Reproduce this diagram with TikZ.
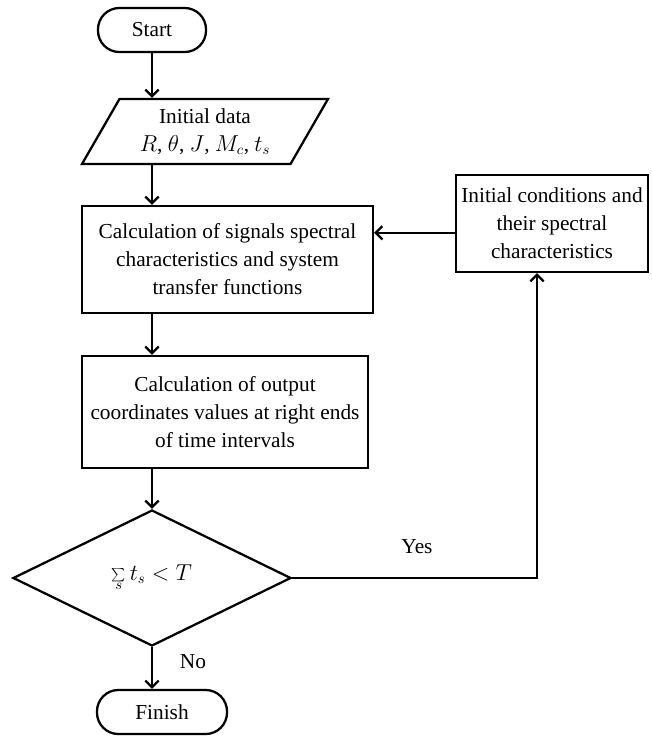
\documentclass[tikz,border=0pt]{standalone}
\usepackage{fontspec}
\setmainfont{Liberation Serif}
\usetikzlibrary{arrows.meta,shapes.geometric}

\begin{document}
\begin{tikzpicture}[x=0.75pt,y=-0.75pt,>={Straight Barb[length=5pt,width=10pt]},line width=1.7pt,font=\fontsize{16}{21}\selectfont]
  \tikzstyle{box}=[draw,align=center,inner sep=2pt]
  \tikzstyle{term}=[box,rounded corners=16pt,minimum height=33pt]
  \useasboundingbox (0,0) rectangle (651,736);
  % main column
  \node[term,minimum width=81pt] (start) at (152,30) {Start};
  \node[box,trapezium,trapezium left angle=54,trapezium right angle=126,trapezium stretches body=true,minimum width=184.5pt,minimum height=48.75pt] (data) at (205,131.5) {Initial data\\$R$, $\theta$, $J$, $M_c$, $t_s$};
  \node[box,minimum width=218.25pt,minimum height=80.25pt] (calc) at (227.5,259.5) {Calculation of signals spectral\\characteristics and system\\transfer functions};
  \node[box,minimum width=214.5pt,minimum height=84pt] (out) at (225,412) {Calculation of output\\coordinates values at right ends\\of time intervals};
  \node[box,diamond,minimum width=208.5pt,minimum height=102pt,inner sep=0pt] (cond) at (152,578) {$\sum\limits_{s} t_s<T$};
  \node[term,minimum width=97.5pt] (finish) at (162,712) {Finish};
  % feedback branch
  \node[box,minimum width=144pt,minimum height=72.75pt] (init) at (552,223.5) {Initial conditions and\\their spectral\\characteristics};
  \node (yes) at (417,547) {Yes};
  \node (no) at (193,662) {No};
  \coordinate (turn) at (537,578);

  \draw[->] (start.south) -- (start.south |- data.top side);
  \draw[->] (data.bottom side -| start.south) -- (start.south |- calc.north);
  \draw[->] (calc.south -| start.south) -- (start.south |- out.north);
  \draw[->] (out.south -| start.south) -- (cond.north);
  \draw[->] (cond.south) -- (cond.south |- finish.north);
  \draw[->] (cond.east) -- (turn) -- (turn |- init.south);
  \draw[->] ([yshift=-7pt]init.west) -- ([yshift=-7pt]init.west -| calc.east);
\end{tikzpicture}
\end{document}
